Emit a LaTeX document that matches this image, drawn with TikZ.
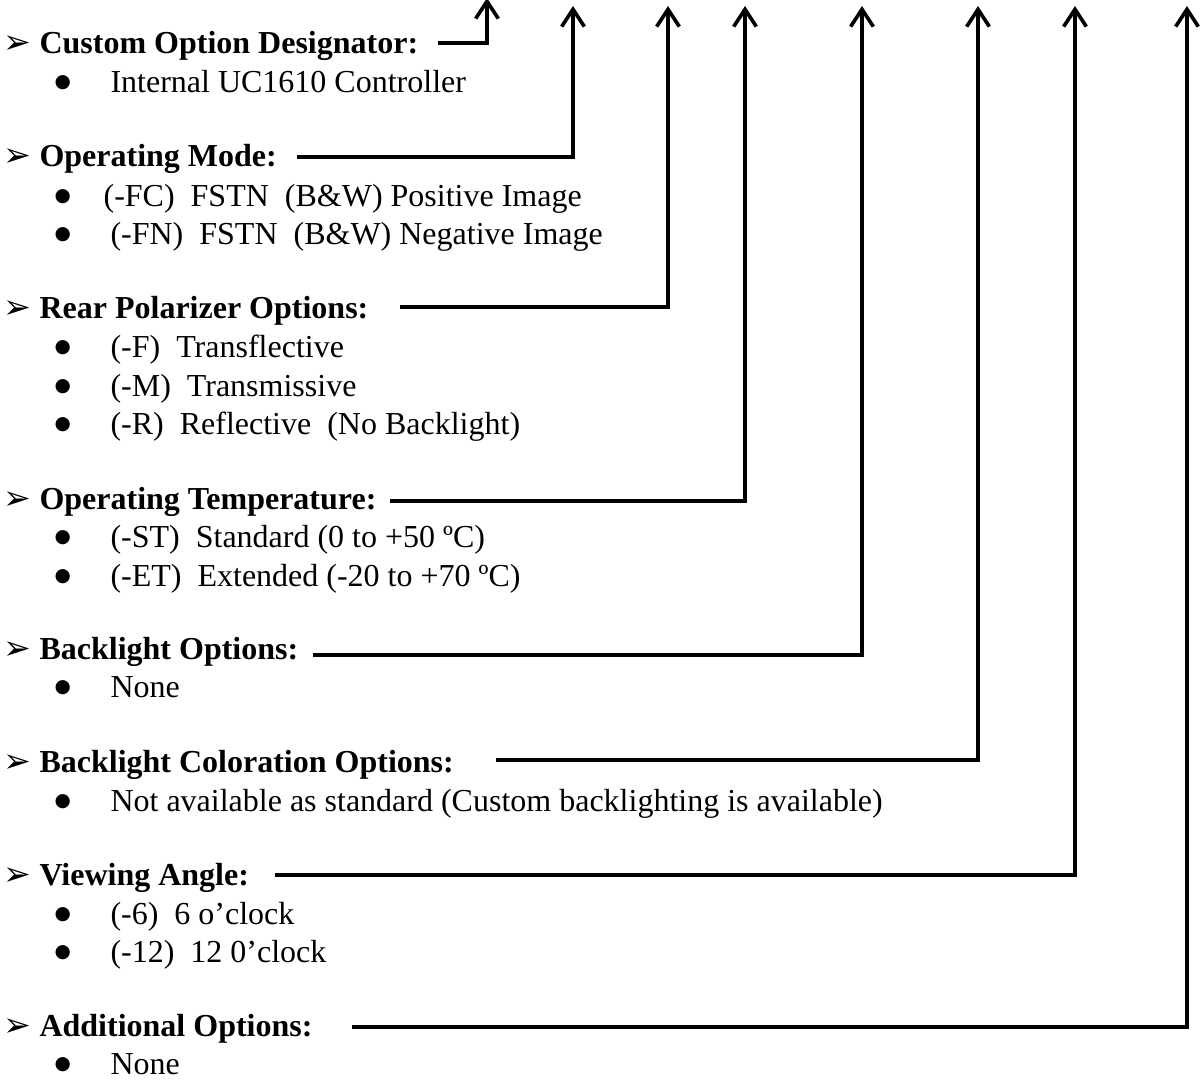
\documentclass[tikz,border=0pt]{standalone}
\usepackage{fontspec}
\usepackage{tikz}
\usetikzlibrary{arrows.meta}
\setmainfont{Liberation Serif}
\newfontfamily\dingfont{DejaVu Sans}

% marker in front of a heading, bullet in front of an item
\newcommand{\mk}{\llap{{\dingfont\fontsize{12.5}{12.5}\selectfont ➢}\hspace{3.2pt}}}
\newcommand{\bul}[1][21pt]{\makebox[#1][l]{\raisebox{2.2pt}{\dingfont\fontsize{7}{7}\selectfont ●}}}

\begin{document}
\begin{tikzpicture}[x=0.375pt, y=-0.375pt,
        head/.style={anchor=base west, inner sep=0pt, font=\fontsize{12}{14}\selectfont\bfseries},
        item/.style={anchor=base west, inner sep=0pt, font=\fontsize{12}{14}\selectfont},
        conn/.style={line width=1.35pt, -{Straight Barb[length=6.5pt,width=8.5pt]}}]
        \useasboundingbox (0,0) rectangle (1202,1082);

        % headings
        \node[head] (custom) at (39, 54) {\mk Custom Option Designator:};
        \node[head] (mode) at (39, 167) {\mk Operating Mode:};
        \node[head] (polar) at (39, 319) {\mk Rear Polarizer Options:};
        \node[head] (temp) at (39, 510) {\mk Operating Temperature:};
        \node[head] (blight) at (39, 660) {\mk Backlight Options:};
        \node[head] (bcolor) at (39, 773) {\mk Backlight Coloration Options:};
        \node[head] (view) at (39, 886) {\mk Viewing Angle:};
        \node[head] (extra) at (39, 1037) {\mk Additional Options:};

        % items
        \node[item] (custom1) at (54, 93) {\bul Internal UC1610 Controller};
        \node[item] (mode1) at (54, 207) {\bul[18.4pt](-FC)\ \ FSTN\ \ (B\&W) Positive Image};
        \node[item] (mode2) at (54, 245) {\bul(-FN)\ \ FSTN\ \ (B\&W) Negative Image};
        \node[item] (polar1) at (54, 358) {\bul(-F)\ \ Transflective};
        \node[item] (polar2) at (54, 397) {\bul(-M)\ \ Transmissive};
        \node[item] (polar3) at (54, 435) {\bul(-R)\ \ Reflective\ \ (No Backlight)};
        \node[item] (temp1) at (54, 548) {\bul(-ST)\ \ Standard (0 to +50 ºC)};
        \node[item] (temp2) at (54, 587) {\bul(-ET)\ \ Extended (-20 to +70 ºC)};
        \node[item] (blight1) at (54, 698) {\bul None};
        \node[item] (bcolor1) at (54, 812) {\bul Not available as standard (Custom backlighting is available)};
        \node[item] (view1) at (54, 925) {\bul(-6)\ \ 6 o’clock};
        \node[item] (view2) at (54, 963) {\bul(-12)\ \ 12 0’clock};
        \node[item] (extra1) at (54, 1075) {\bul None};

        % line starts and arrow tips
        \coordinate (s1) at (438, 43);   \coordinate (t1) at (487, -2);
        \coordinate (s2) at (297, 157);  \coordinate (t2) at (573, 6);
        \coordinate (s3) at (400, 307);  \coordinate (t3) at (668, 6);
        \coordinate (s4) at (390, 501);  \coordinate (t4) at (745, 6);
        \coordinate (s5) at (313, 655);  \coordinate (t5) at (862, 6);
        \coordinate (s6) at (496, 760);  \coordinate (t6) at (978, 6);
        \coordinate (s7) at (275, 875);  \coordinate (t7) at (1075, 6);
        \coordinate (s8) at (352, 1027); \coordinate (t8) at (1187, 6);

        \draw[conn] (s1) -| (t1);
        \draw[conn] (s2) -| (t2);
        \draw[conn] (s3) -| (t3);
        \draw[conn] (s4) -| (t4);
        \draw[conn] (s5) -| (t5);
        \draw[conn] (s6) -| (t6);
        \draw[conn] (s7) -| (t7);
        \draw[conn] (s8) -| (t8);
    \end{tikzpicture}
\end{document}
